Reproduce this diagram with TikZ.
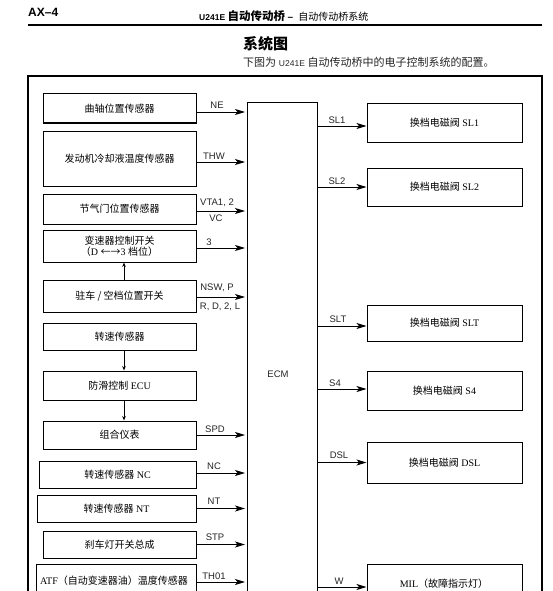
\documentclass[tikz,border=0pt]{standalone}
\usepackage{fontspec}
\setmainfont{Liberation Serif}
\newfontfamily\zhfont{Noto Sans CJK SC}
\newfontfamily\lsans{Liberation Sans}
\usetikzlibrary{arrows.meta}
\newcommand\zh[1]{{\zhfont #1}}
\tikzset{
  box/.style={draw, line width=1pt, inner sep=0pt, align=center, font=\fontsize{10}{12.5}\selectfont},
  sig/.style={font=\lsans\fontsize{9.5}{11}\selectfont, inner sep=1pt, text=black!85},
  arr/.style={line width=0.9pt, -{Stealth[length=10pt,width=6pt,inset=2.5pt]}},
  sarr/.style={line width=0.8pt, -{Stealth[length=4.5pt,width=3.5pt]}},
}
\begin{document}
\begin{tikzpicture}[x=1pt,y=-1pt]
\useasboundingbox (0,0) rectangle (552,591);
\fill[white] (0,0) rectangle (552,591);
\clip (0,0) rectangle (552,591);
% header
\node[anchor=west, font=\lsans\bfseries\fontsize{12}{14}\selectfont, inner sep=0pt] (ax) at (28,12) {AX–4};
\node[anchor=west, inner sep=0pt] (hd) at (199,16) {{\lsans\bfseries\fontsize{8.5}{10}\selectfont U241E}\ {\zhfont\bfseries\fontsize{11.5}{13}\selectfont 自动传动桥}\ {\lsans\bfseries\fontsize{10}{12}\selectfont –}\ \ {\zhfont\fontsize{10}{12}\selectfont 自动传动桥系统}};
\draw[line width=1.3pt] (28,25) coordinate (hl1) -- (542,25) coordinate (hl2);
\node[anchor=west, inner sep=0pt, font=\zhfont\bfseries\fontsize{15}{17}\selectfont] (ttl) at (243,44) {系统图};
\node[anchor=west, inner sep=0pt, font=\fontsize{11}{12}\selectfont, text=black!85] (sub) at (243,62) {\zh{下图为}\ {\lsans\fontsize{8.5}{10}\selectfont U241E}\ \zh{自动传动桥中的电子控制系统的配置。}};
% frame
\draw[line width=1.1pt] (28,620) -- (28,76) -- (542,76) -- (542,620);
% ECM
\node[draw, line width=1pt, minimum width=70pt, minimum height=517pt, inner sep=0pt] (ecm) at (282,361.5) {};
\node[sig] (ecml) at (278,374) {ECM};
% left boxes
\node[box, minimum width=153pt, minimum height=29pt] (b1) at (119.5,108.5) {\zh{曲轴位置传感器}};
\node[box, minimum width=153pt, minimum height=55pt] (b2) at (119.5,158.5) {\zh{发动机冷却液温度传感器}};
\node[box, minimum width=153pt, minimum height=30pt] (b3) at (119.5,209) {\zh{节气门位置传感器}};
\node[box, minimum width=153pt, minimum height=32pt] (b4) at (119.5,246) {\zh{变速器控制开关}\\[-1.5pt]\zh{（}D \zh{←→}3 \zh{档位）}};
\node[box, minimum width=153pt, minimum height=32pt] (b5) at (119.5,296) {\zh{驻车 / 空档位置开关}};
\node[box, minimum width=153pt, minimum height=27pt] (b6) at (119.5,336.5) {\zh{转速传感器}};
\node[box, minimum width=153pt, minimum height=29pt] (b7) at (119.5,385.5) {\zh{防滑控制} ECU};
\node[box, minimum width=153pt, minimum height=28pt] (b8) at (119.5,435) {\zh{组合仪表}};
\node[box, minimum width=157pt, minimum height=27pt] (b9) at (117.5,474.5) {\zh{转速传感器} NC};
\node[box, minimum width=159pt, minimum height=27pt] (b10) at (116.5,508.5) {\zh{转速传感器} NT};
\node[box, minimum width=153pt, minimum height=27pt] (b11) at (119.5,544.5) {\zh{刹车灯开关总成}};
\node[box, minimum width=160pt, minimum height=50pt] (b12) at (116,589) {};
\node[font=\fontsize{10}{12}\selectfont, inner sep=0pt] (b12t) at (114,581) {ATF\zh{（自动变速器油）温度传感器}};
% right boxes
\node[box, minimum width=155pt, minimum height=38pt] (r1) at (444.5,123) {\zh{换档电磁阀}\ SL1};
\node[box, minimum width=155pt, minimum height=38pt] (r2) at (444.5,187) {\zh{换档电磁阀}\ SL2};
\node[box, minimum width=155pt, minimum height=36pt] (r3) at (444.5,323) {\zh{换档电磁阀}\ SLT};
\node[box, minimum width=155pt, minimum height=39pt] (r4) at (444.5,390.5) {\zh{换档电磁阀}\ S4};
\node[box, minimum width=155pt, minimum height=41pt] (r5) at (444.5,462.5) {\zh{换档电磁阀}\ DSL};
\node[box, minimum width=155pt, minimum height=46pt] (r6) at (444.5,587) {};
\node[font=\fontsize{10}{12}\selectfont, inner sep=0pt] (r6t) at (444,584) {MIL\zh{（故障指示灯）}};
% input arrows
\draw[arr, shorten >=1.5pt] ([yshift=-3.5pt]b1.east) -- ([yshift=-3.5pt]b1.east -| ecm.west);
\draw[arr, shorten >=1.5pt] ([yshift=-3.5pt]b2.east) -- ([yshift=-3.5pt]b2.east -| ecm.west);
\draw[arr, shorten >=1.5pt] ([yshift=-2pt]b3.east) -- ([yshift=-2pt]b3.east -| ecm.west);
\draw[arr, shorten >=1.5pt] ([yshift=-2pt]b4.east) -- ([yshift=-2pt]b4.east -| ecm.west);
\draw[arr, shorten >=1.5pt] ([yshift=-1pt]b5.east) -- ([yshift=-1pt]b5.east -| ecm.west);
\draw[arr, shorten >=1.5pt] (b8.east) -- (b8.east -| ecm.west);
\draw[arr, shorten >=1.5pt] ([yshift=1.5pt]b9.east) -- ([yshift=1.5pt]b9.east -| ecm.west);
\draw[arr, shorten >=1.5pt] (b10.east) -- (b10.east -| ecm.west);
\draw[arr, shorten >=1.5pt] (b11.east) -- (b11.east -| ecm.west);
\draw[arr, shorten >=1.5pt] ([yshift=7pt]b12.east) -- ([yshift=7pt]b12.east -| ecm.west);
% internal arrows
\draw[sarr] ([xshift=4.5pt]b5.north) -- ([xshift=4.5pt]b4.south);
\draw[sarr] ([xshift=4.5pt]b6.south) -- ([xshift=4.5pt]b7.north);
\draw[sarr] ([xshift=4.5pt]b7.south) -- ([xshift=4.5pt]b8.north);
% output arrows
\draw[arr] ([yshift=-3pt]r1.west -| ecm.east) -- ([yshift=-3pt]r1.west);
\draw[arr] (r2.west -| ecm.east) -- (r2.west);
\draw[arr] ([yshift=-3pt]r3.west -| ecm.east) -- ([yshift=-3pt]r3.west);
\draw[arr] ([yshift=1.5pt]r4.west -| ecm.east) -- ([yshift=1.5pt]r4.west);
\draw[arr] (r5.west -| ecm.east) -- (r5.west);
\draw[arr] (r6.west -| ecm.east) -- (r6.west);
% input labels
\node[sig] (lne) at (217,105) {NE};
\node[sig] (lthw) at (214,156) {THW};
\node[sig] (lvta) at (217,203) {VTA1, 2};
\node[sig] (lvc) at (216,218) {VC};
\node[sig] (l3) at (209,242) {3};
\node[sig] (lnsw) at (217,288) {NSW, P};
\node[sig] (lrd) at (220,307) {R, D, 2, L};
\node[sig] (lspd) at (215,429) {SPD};
\node[sig] (lnc) at (214,466) {NC};
\node[sig] (lnt) at (214,501) {NT};
\node[sig] (lstp) at (215,537) {STP};
\node[sig] (lth) at (214,576) {TH01};
% output labels
\node[sig] (lsl1) at (337,120) {SL1};
\node[sig] (lsl2) at (337,181) {SL2};
\node[sig] (lslt) at (338,319) {SLT};
\node[sig] (ls4) at (335,383) {S4};
\node[sig] (ldsl) at (339,455) {DSL};
\node[sig] (lw) at (339,581) {W};
\end{tikzpicture}
\end{document}
